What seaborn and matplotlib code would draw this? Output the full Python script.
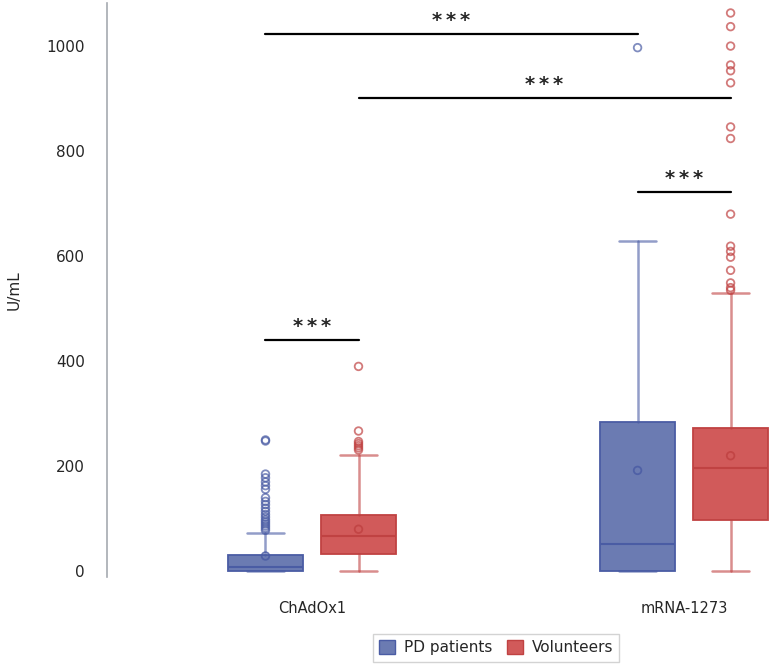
import numpy as np
import pandas as pd
import seaborn as sns
import matplotlib.pyplot as plt
from matplotlib.patches import Patch

sns.set_style("white")
plt.rcParams['font.family'] = ['DejaVu Sans']
plt.rcParams.update({'font.size': 11})

# values (U/mL)
vaccines = ["ChAdOx1", "mRNA-1273"]
groups = ["PD patients", "Volunteers"]
box_vaccine = ["ChAdOx1", "ChAdOx1", "mRNA-1273", "mRNA-1273"]
box_group = ["PD patients", "Volunteers", "PD patients", "Volunteers"]
whis_low = [0, 0, 0, 0]
q1 = [0, 32, 0, 97]
median = [8, 67, 51, 196]
q3 = [30, 108, 284, 272]
whis_high = [72, 221, 628, 529]
means = [29, 80, 192, 220]
out_pd_chad = [250, 248, 185, 178, 170, 163, 156, 140, 133, 127, 120, 114,
               108, 103, 98, 94, 90, 86, 82, 78]
out_vol_chad = [390, 267, 247, 243, 239, 235, 231]
out_pd_mrna = [997]
out_vol_mrna = [1063, 1037, 1000, 964, 953, 930, 846, 824, 680, 619, 609,
                598, 573, 549, 540, 535]
outliers = [out_pd_chad, out_vol_chad, out_pd_mrna, out_vol_mrna]

# significance brackets: (left box, right box, height, label)
brackets = [(0, 1, 440, "***"), (2, 3, 722, "***"),
            (1, 3, 901, "***"), (0, 2, 1023, "***")]

fill = {"PD patients": "#6b7bb2", "Volunteers": "#d15a5a"}
edge = {"PD patients": "#4a5ca4", "Volunteers": "#c04242"}
offset = {"PD patients": -0.125, "Volunteers": 0.125}

pos = [vaccines.index(v) + offset[g] for v, g in zip(box_vaccine, box_group)]

fig = plt.figure(figsize=(7.73, 6.68), dpi=100)
ax = fig.add_axes([0.1384, 0.1362, 0.8616, 0.8593])

for i, g in enumerate(box_group):
    st = dict(whislo=whis_low[i], q1=q1[i], med=median[i], q3=q3[i],
              whishi=whis_high[i], fliers=[])
    ax.bxp([st], positions=[pos[i]], widths=0.2, capwidths=0.1,
           patch_artist=True, showfliers=False, manage_ticks=False,
           boxprops=dict(facecolor=fill[g], edgecolor=edge[g], linewidth=1.3),
           medianprops=dict(color=edge[g], linewidth=1.5),
           whiskerprops=dict(color=edge[g], linewidth=1.8, alpha=0.6),
           capprops=dict(color=edge[g], linewidth=1.8, alpha=0.6))


def hollow(coll, alpha):
    # turn seaborn's filled dots into open circles
    fc = coll.get_facecolors()
    fc[:, 3] = alpha
    coll.set_edgecolors(fc)
    coll.set_facecolors("none")
    coll.set_linewidths(1.3)
    coll.set_zorder(4)


rows = []
for i, g in enumerate(box_group):
    for v in outliers[i]:
        rows.append(dict(x=pos[i], y=v, group=g))
pts = pd.DataFrame(rows)
sns.scatterplot(data=pts, x="x", y="y", hue="group", palette=edge, ax=ax,
                s=30, legend=False)
hollow(ax.collections[-1], 0.7)

mean_df = pd.DataFrame(dict(x=pos, y=means, group=box_group))
sns.scatterplot(data=mean_df, x="x", y="y", hue="group", palette=edge, ax=ax,
                s=30, legend=False)
hollow(ax.collections[-1], 0.85)

for a, b, h, lab in brackets:
    ax.plot([pos[a], pos[b]], [h, h], color="black", linewidth=1.6)
    ax.text((pos[a] + pos[b]) / 2, h + 8, "*\u2009*\u2009*", ha="center",
            va="bottom", fontsize=14, fontweight="bold")

ax.set_xlim(-0.551, 1.239)
ax.set_ylim(-11, 1082)
ax.set_xticks([0, 1])
ax.set_xticklabels(vaccines, fontsize=10.5)
ax.set_yticks([0, 200, 400, 600, 800, 1000])
ax.tick_params(axis="x", length=0, pad=17)
ax.tick_params(axis="y", length=10, width=1.2, color="#a6aab0", pad=6,
               direction="out")
ax.set_xlabel("")
ax.set_ylabel("U/mL", fontsize=11, labelpad=18)
sns.despine(ax=ax, bottom=True, right=True, top=True)
ax.spines["left"].set_color("#a6aab0")
ax.spines["left"].set_linewidth(1.2)

handles = [Patch(facecolor=fill[g], edgecolor=edge[g], label=g) for g in groups]
fig.legend(handles=handles, loc="center", bbox_to_anchor=(0.642, 0.03),
           ncol=2, frameon=True, fancybox=False, edgecolor="#c8c8c8",
           fontsize=11, handlelength=1.0, handleheight=1.0,
           columnspacing=1.0, handletextpad=0.6, borderpad=0.4)

fig.savefig("out.png", dpi=100)
